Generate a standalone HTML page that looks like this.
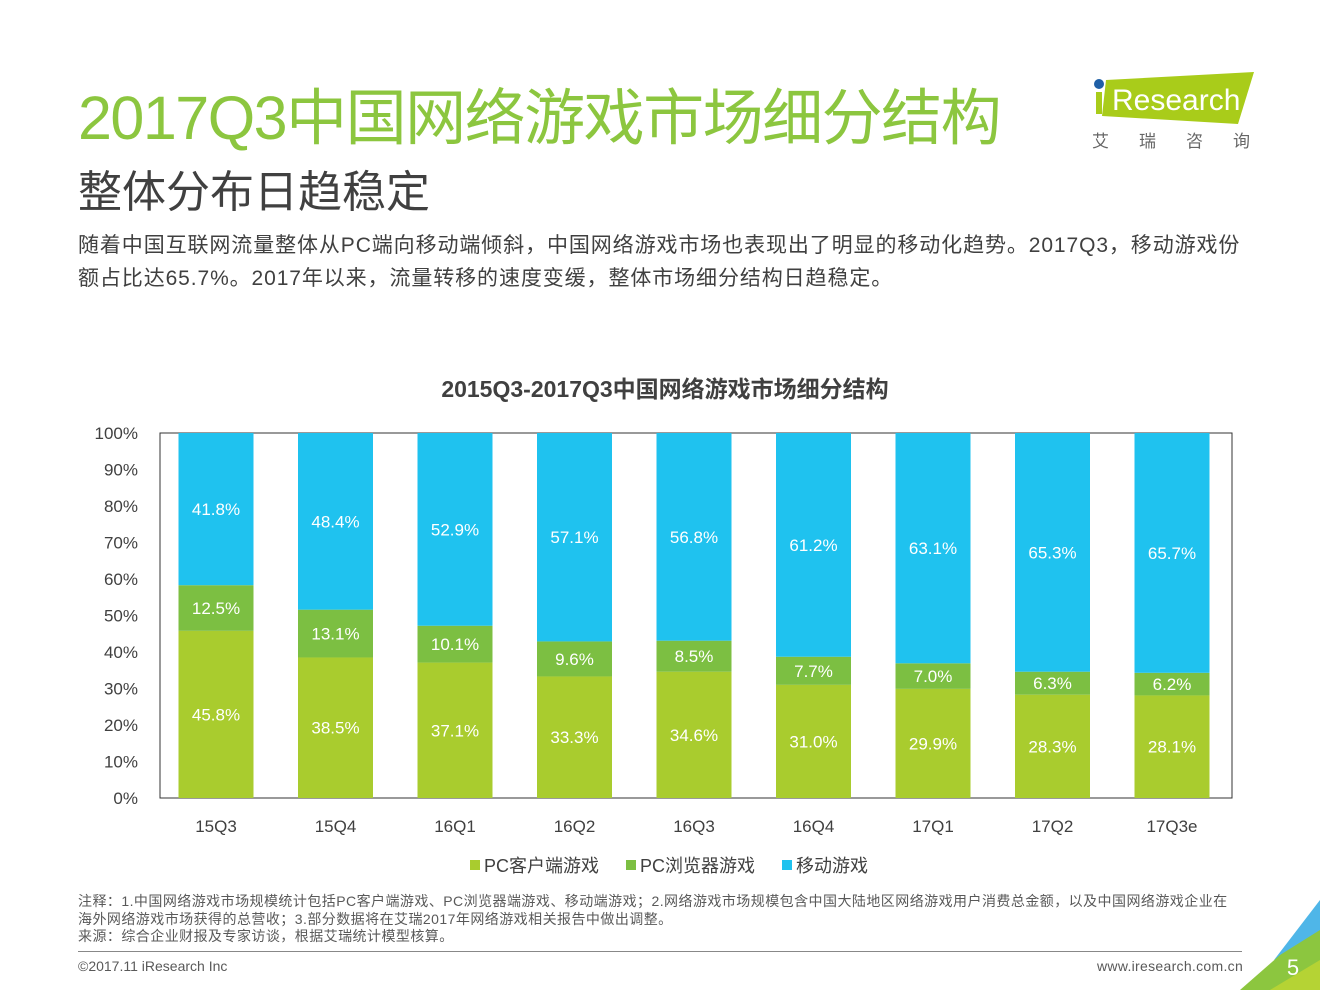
<!DOCTYPE html>
<html><head><meta charset="utf-8">
<style>
body{margin:0;background:#fff;}
#root{position:relative;width:1320px;height:990px;overflow:hidden;font-family:"Liberation Sans","Noto Sans CJK SC",sans-serif;}
.abs{position:absolute;white-space:nowrap;}
</style></head><body>
<div id="root">
<div class="abs" style="left:78px;top:68px;font-size:61px;color:#8cc63f;letter-spacing:-1.5px;">2017Q3中国网络游戏市场细分结构</div>
<div class="abs" style="left:78px;top:156px;font-size:44px;color:#404040;">整体分布日趋稳定</div>
<div class="abs" style="left:78px;top:229px;font-size:21px;color:#404040;line-height:33px;letter-spacing:0.9px;">随着中国互联网流量整体从PC端向移动端倾斜，中国网络游戏市场也表现出了明显的移动化趋势。2017Q3，移动游戏份<br>额占比达65.7%。2017年以来，流量转移的速度变缓，整体市场细分结构日趋稳定。</div>
<svg class="abs" style="left:1088px;top:68px" width="180" height="90">
<polygon points="18,12 166,4 150,56 14,48" fill="#a9cc1a"/>
<circle cx="11" cy="16" r="5" fill="#1f5fa6"/>
<rect x="8" y="24" width="6" height="22" fill="#a9cc1a"/>
<text x="24" y="42" font-size="30" fill="#fff" font-family="Liberation Sans">Research</text>
<text x="4" y="79" font-size="17" fill="#666" font-family="Noto Sans CJK SC" letter-spacing="30">艾瑞咨询</text>
</svg>
<svg class="abs" id="chart" style="left:0;top:360px" width="1320" height="530"></svg>
<div class="abs" style="left:78px;top:893px;font-size:14px;color:#595959;line-height:17.5px;letter-spacing:0.45px;">注释：1.中国网络游戏市场规模统计包括PC客户端游戏、PC浏览器端游戏、移动端游戏；2.网络游戏市场规模包含中国大陆地区网络游戏用户消费总金额，以及中国网络游戏企业在<br>海外网络游戏市场获得的总营收；3.部分数据将在艾瑞2017年网络游戏相关报告中做出调整。<br>来源：综合企业财报及专家访谈，根据艾瑞统计模型核算。</div>
<div class="abs" style="left:78px;top:951px;width:1164px;height:1px;background:#888;"></div>
<div class="abs" style="left:78px;top:958px;font-size:14px;color:#595959;">©2017.11 iResearch Inc</div>
<div class="abs" style="left:1097px;top:958px;font-size:14px;color:#595959;letter-spacing:0.3px;">www.iresearch.com.cn</div>
<svg class="abs" style="left:1240px;top:900px" width="80" height="90">
<polygon points="80,0 80,45 34,60" fill="#4fb6e8"/>
<polygon points="80,30 80,90 0,90 40,55" fill="#8cc63f"/>
<polygon points="80,60 80,90 30,90" fill="#b5d334"/>
<text x="53" y="75" font-size="22" fill="#fff" font-family="Liberation Sans" text-anchor="middle">5</text>
</svg>
</div>
<script>
const categories=["15Q3","15Q4","16Q1","16Q2","16Q3","16Q4","17Q1","17Q2","17Q3e"];
const pcClient=[45.8,38.5,37.1,33.3,34.6,31.0,29.9,28.3,28.1];
const pcBrowser=[12.5,13.1,10.1,9.6,8.5,7.7,7.0,6.3,6.2];
const mobile=[41.8,48.4,52.9,57.1,56.8,61.2,63.1,65.3,65.7];
const yTicks=[0,10,20,30,40,50,60,70,80,90,100];
const seriesNames=["PC客户端游戏","PC浏览器游戏","移动游戏"];
const colors=["#a9cc2e","#7cbf42","#1fc2ef"];
const NS="http://www.w3.org/2000/svg";
const svg=document.getElementById("chart");
const L=160,R=1232,T=73,B=438;
const bw=75, x0=216, step=119.5;
const y=v=>B-(v/100)*(B-T);
const x=i=>x0+i*step;
function mk(tag,attrs,txt){const e=document.createElementNS(NS,tag);for(const k in attrs)e.setAttribute(k,attrs[k]);if(txt!==undefined)e.textContent=txt;svg.appendChild(e);return e;}
const title=mk("text",{x:665,y:37,"text-anchor":"middle","font-size":23,"font-weight":"bold",fill:"#404040","font-family":"Liberation Sans, Noto Sans CJK SC, sans-serif"},"2015Q3-2017Q3中国网络游戏市场细分结构");


const frame=mk("rect",{x:L,y:T,width:R-L,height:B-T,fill:"none",stroke:"#333","stroke-width":1});


yTicks.forEach(t=>{const e=mk("text",{x:138,y:y(t)+6,"text-anchor":"end","font-size":17,fill:"#404040"},t+"%");

});
const series=[pcClient,pcBrowser,mobile];
categories.forEach((c,i)=>{
  let base=0;
  series.forEach((s,k)=>{
    const v=s[i];const top=(k===2)?100:base+v;
    const r=mk("rect",{x:x(i)-bw/2,y:y(top),width:bw,height:y(base)-y(top),fill:colors[k]});
    
    
    const t=mk("text",{x:x(i),y:(y(base)+y(top))/2+6,"text-anchor":"middle","font-size":17,fill:"#fff"},v.toFixed(1)+"%");
    
    
    base=top;
  });
  const xl=mk("text",{x:x(i),y:B+34,"text-anchor":"middle","font-size":17,fill:"#404040"},c);
  
  
});
const lx=[470,626,782];
seriesNames.forEach((n,k)=>{
  const r=mk("rect",{x:lx[k],y:500,width:10,height:10,fill:colors[k]});
  
  
  const t=mk("text",{x:lx[k]+14,y:512,"font-size":18,fill:"#404040","font-family":"Liberation Sans, Noto Sans CJK SC, sans-serif"},n);
  
  
});
</script>
</body></html>
